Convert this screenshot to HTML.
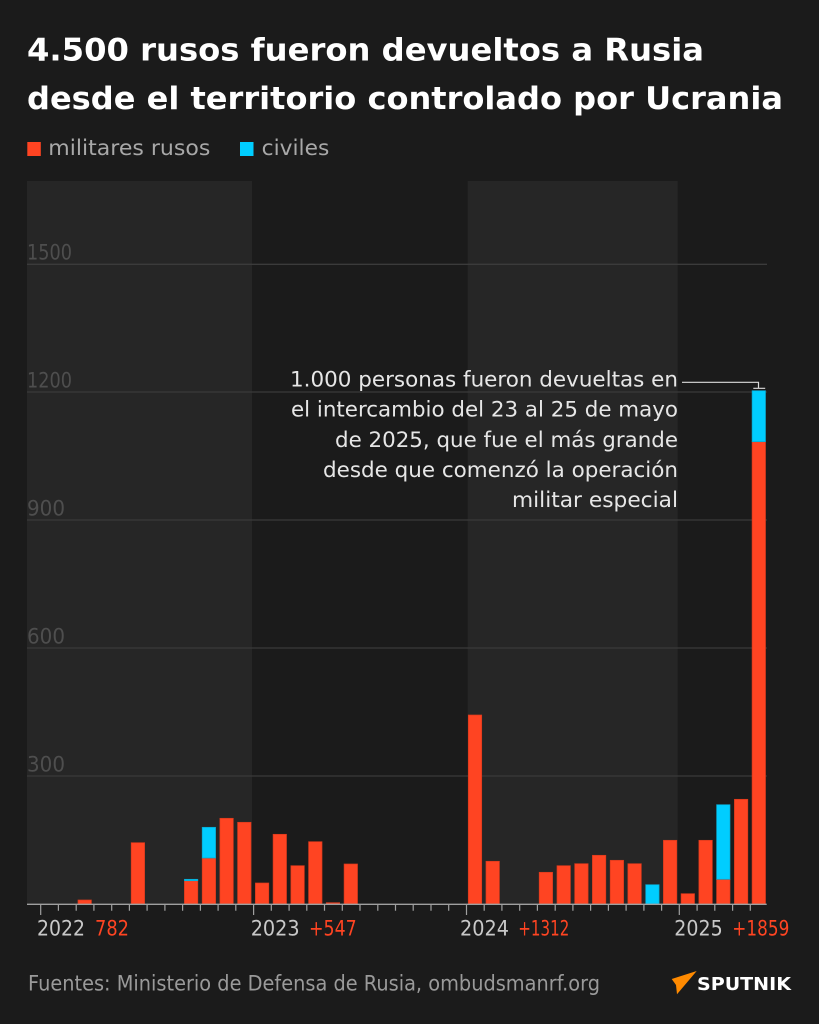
<!DOCTYPE html>
<html><head><meta charset="utf-8"><style>
html,body{margin:0;padding:0;background:#1b1b1b;}
svg{display:block;}
</style></head><body>
<svg width="819" height="1024" viewBox="0 0 819 1024" xmlns="http://www.w3.org/2000/svg">
<rect x="0" y="0" width="819" height="1024" fill="#1b1b1b"/>
<!-- title -->
<g font-family="'DejaVu Sans','Liberation Sans',sans-serif" font-weight="bold" fill="#ffffff" font-size="31">
<text x="27" y="60.7" textLength="677" lengthAdjust="spacingAndGlyphs">4.500 rusos fueron devueltos a Rusia</text>
<text x="27" y="109" textLength="756" lengthAdjust="spacingAndGlyphs">desde el territorio controlado por Ucrania</text>
</g>
<!-- legend -->
<rect x="27.3" y="142" width="13.5" height="14" fill="#ff4422"/>
<rect x="240" y="142" width="13.5" height="14" fill="#00cdff"/>
<g font-family="'DejaVu Sans','Liberation Sans',sans-serif" fill="#a8a8a8" font-size="21.5">
<text x="48.3" y="155" textLength="162" lengthAdjust="spacingAndGlyphs">militares rusos</text>
<text x="261.7" y="155" textLength="67.6" lengthAdjust="spacingAndGlyphs">civiles</text>
</g>
<!-- bands -->
<rect x="27" y="181" width="225" height="723" fill="#262626"/>
<rect x="467.7" y="181" width="210" height="723" fill="#262626"/>
<!-- gridlines -->
<g stroke="#3b3b3b" stroke-width="1.3">
<line x1="27" y1="264.3" x2="767" y2="264.3"/>
<line x1="27" y1="392" x2="767" y2="392"/>
<line x1="27" y1="520" x2="767" y2="520"/>
<line x1="27" y1="648" x2="767" y2="648"/>
<line x1="27" y1="776" x2="767" y2="776"/>
</g>
<g font-family="'DejaVu Sans','Liberation Sans',sans-serif" fill="#4e4e4e" font-size="21">
<text x="27" y="259.5" textLength="45" lengthAdjust="spacingAndGlyphs">1500</text>
<text x="27" y="387.3" textLength="45" lengthAdjust="spacingAndGlyphs">1200</text>
<text x="27" y="515.3" textLength="38" lengthAdjust="spacingAndGlyphs">900</text>
<text x="27" y="643.3" textLength="38" lengthAdjust="spacingAndGlyphs">600</text>
<text x="27" y="771.3" textLength="38" lengthAdjust="spacingAndGlyphs">300</text>
</g>
<!-- bars -->
<g fill="#ff4422" stroke="#d93a1c" stroke-width="0.7">
<rect x="78.0" y="900" width="13.4" height="4"/>
<rect x="131.2" y="842.7" width="13.4" height="61.3"/>
<rect x="184.4" y="880.7" width="13.4" height="23.3"/>
<rect x="202.2" y="858" width="13.4" height="46"/>
<rect x="219.9" y="818.3" width="13.4" height="85.7"/>
<rect x="237.6" y="822.3" width="13.4" height="81.7"/>
<rect x="255.4" y="883" width="13.4" height="21"/>
<rect x="273.1" y="834.3" width="13.4" height="69.7"/>
<rect x="290.9" y="865.7" width="13.4" height="38.3"/>
<rect x="308.6" y="841.7" width="13.4" height="62.3"/>
<rect x="326.3" y="902.7" width="13.4" height="1.3"/>
<rect x="344.1" y="864" width="13.4" height="40"/>
<rect x="468.3" y="715" width="13.4" height="189"/>
<rect x="486.0" y="861.3" width="13.4" height="42.7"/>
<rect x="539.2" y="872.3" width="13.4" height="31.7"/>
<rect x="557.0" y="865.7" width="13.4" height="38.3"/>
<rect x="574.7" y="863.7" width="13.4" height="40.3"/>
<rect x="592.4" y="855.3" width="13.4" height="48.7"/>
<rect x="610.2" y="860.3" width="13.4" height="43.7"/>
<rect x="627.9" y="863.7" width="13.4" height="40.3"/>
<rect x="663.4" y="840.3" width="13.4" height="63.7"/>
<rect x="681.1" y="893.7" width="13.4" height="10.3"/>
<rect x="698.9" y="840.3" width="13.4" height="63.7"/>
<rect x="716.6" y="879.3" width="13.4" height="24.7"/>
<rect x="734.4" y="799.3" width="13.4" height="104.7"/>
<rect x="752.1" y="441.7" width="13.4" height="462.3"/>
</g>
<g fill="#00cdff" stroke="#0aa6cc" stroke-width="0.7">
<rect x="184.4" y="879.3" width="13.4" height="1.4"/>
<rect x="202.2" y="827.3" width="13.4" height="30.7"/>
<rect x="645.7" y="884.7" width="13.4" height="19.3"/>
<rect x="716.6" y="804.7" width="13.4" height="74.6"/>
<rect x="752.1" y="390.7" width="13.4" height="51"/>
</g>
<!-- annotation -->
<g font-family="'DejaVu Sans','Liberation Sans',sans-serif" fill="#e6e6e6" font-size="21" text-anchor="end">
<text x="678" y="386.7" textLength="388" lengthAdjust="spacingAndGlyphs">1.000 personas fueron devueltas en</text>
<text x="678" y="416.7" textLength="387" lengthAdjust="spacingAndGlyphs">el intercambio del 23 al 25 de mayo</text>
<text x="678" y="447" textLength="343" lengthAdjust="spacingAndGlyphs">de 2025, que fue el más grande</text>
<text x="678" y="477" textLength="355" lengthAdjust="spacingAndGlyphs">desde que comenzó la operación</text>
<text x="678" y="507" textLength="166" lengthAdjust="spacingAndGlyphs">militar especial</text>
</g>
<path d="M682 382.3 H758.5 V388.3 M753.3 388.3 H765.2" stroke="#dcdcdc" stroke-width="1.2" fill="none"/>
<!-- axis -->
<line x1="27" y1="904.3" x2="766.7" y2="904.3" stroke="#a0a0a0" stroke-width="1.4"/>
<path stroke="#a0a0a0" stroke-width="1.2" fill="none" d="
M40.7 904 V915 M58.4 904 V910.7 M76.2 904 V910.7 M93.9 904 V910.7 M111.7 904 V910.7 M129.4 904 V910.7 M147.1 904 V910.7 M164.9 904 V910.7 M182.6 904 V910.7 M200.4 904 V910.7 M218.1 904 V910.7 M235.8 904 V910.7
M253.6 904 V915 M271.3 904 V910.7 M289.1 904 V910.7 M306.8 904 V910.7 M324.5 904 V910.7 M342.3 904 V910.7 M360.0 904 V910.7 M377.8 904 V910.7 M395.5 904 V910.7 M413.2 904 V910.7 M431.0 904 V910.7 M448.7 904 V910.7
M466.5 904 V915 M484.2 904 V910.7 M501.9 904 V910.7 M519.7 904 V910.7 M537.4 904 V910.7 M555.2 904 V910.7 M572.9 904 V910.7 M590.6 904 V910.7 M608.4 904 V910.7 M626.1 904 V910.7 M643.9 904 V910.7 M661.6 904 V910.7
M679.3 904 V915 M697.1 904 V910.7 M714.8 904 V910.7 M732.6 904 V910.7 M750.3 904 V910.7"/>
<g font-family="'DejaVu Sans','Liberation Sans',sans-serif" font-size="21">
<text x="37" y="935.7" fill="#c8c8c8" textLength="48" lengthAdjust="spacingAndGlyphs">2022</text>
<text x="95" y="935.7" fill="#ff4422" textLength="34" lengthAdjust="spacingAndGlyphs">782</text>
<text x="250.7" y="935.7" fill="#c8c8c8" textLength="49" lengthAdjust="spacingAndGlyphs">2023</text>
<text x="309" y="935.7" fill="#ff4422" textLength="47.7" lengthAdjust="spacingAndGlyphs">+547</text>
<text x="460" y="935.7" fill="#c8c8c8" textLength="49" lengthAdjust="spacingAndGlyphs">2024</text>
<text x="518.3" y="935.7" fill="#ff4422" textLength="51" lengthAdjust="spacingAndGlyphs">+1312</text>
<text x="674.3" y="935.7" fill="#c8c8c8" textLength="48.4" lengthAdjust="spacingAndGlyphs">2025</text>
<text x="732.3" y="935.7" fill="#ff4422" textLength="57" lengthAdjust="spacingAndGlyphs">+1859</text>
</g>
<!-- footer -->
<text x="28" y="990.7" font-family="'DejaVu Sans','Liberation Sans',sans-serif" font-size="21" fill="#9a9a9a" textLength="572" lengthAdjust="spacingAndGlyphs">Fuentes: Ministerio de Defensa de Rusia, ombudsmanrf.org</text>
<polygon points="671.7,979 696.7,971 677,994.3 676,985" fill="#ff8a00"/>
<text x="697" y="990" font-family="'DejaVu Sans','Liberation Sans',sans-serif" font-weight="bold" font-size="17.5" fill="#ffffff" textLength="94" lengthAdjust="spacingAndGlyphs">SPUTNIK</text>
</svg>
</body></html>
